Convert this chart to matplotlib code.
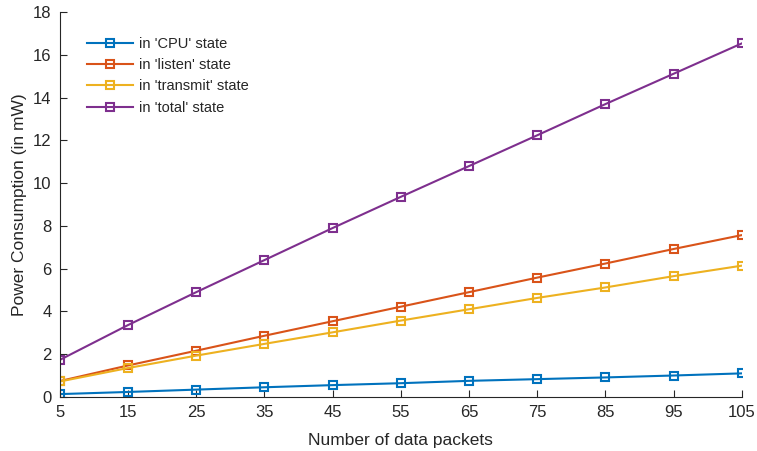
import numpy as np
import matplotlib
matplotlib.use("Agg")
import matplotlib.pyplot as plt

plt.rcParams['font.family'] = ['Liberation Sans', 'DejaVu Sans']

packets = [5, 15, 25, 35, 45, 55, 65, 75, 85, 95, 105]
cpu = [0.13, 0.23, 0.34, 0.45, 0.55, 0.64, 0.75, 0.83, 0.91, 1.0, 1.1]
listen = [0.74, 1.47, 2.16, 2.86, 3.54, 4.22, 4.9, 5.58, 6.24, 6.92, 7.57]
transmit = [0.72, 1.35, 1.93, 2.48, 3.02, 3.57, 4.1, 4.63, 5.12, 5.65, 6.14]
total = [1.73, 3.36, 4.9, 6.4, 7.9, 9.36, 10.8, 12.24, 13.7, 15.12, 16.54]

labels = ["in 'CPU' state", "in 'listen' state", "in 'transmit' state", "in 'total' state"]
colors = ['#0072BD', '#D95319', '#EDB120', '#7E2F8E']
txt = '#262626'

fig = plt.figure(figsize=(7.57, 4.51), dpi=100)
ax = fig.add_axes([0.079, 0.12, 0.901, 0.853])

for ys, lab, c in zip([cpu, listen, transmit, total], labels, colors):
    ax.plot(packets, ys, color=c, lw=1.5, marker='s', ms=6, mfc='none', mew=1.5, label=lab)

ax.set_xlim(5, 105)
ax.set_ylim(0, 18)
ax.set_xticks(packets)
ax.set_yticks(np.arange(0, 19, 2))
ax.spines['top'].set_visible(False)
ax.spines['right'].set_visible(False)
for s in ['left', 'bottom']:
    ax.spines[s].set_color(txt)
    ax.spines[s].set_linewidth(0.8)
ax.tick_params(direction='in', length=5, colors=txt, labelsize=12, pad=6)
ax.set_xlabel('Number of data packets', fontsize=12.5, color=txt, labelpad=9)
ax.set_ylabel('Power Consumption (in mW)', fontsize=12.5, color=txt, labelpad=4)

ax.legend(loc='upper left', bbox_to_anchor=(0.02, 0.97), frameon=False, fontsize=10.5,
          handlelength=3.2, handletextpad=0.4, labelspacing=0.5, labelcolor=txt)

fig.savefig('out.png', dpi=100)
